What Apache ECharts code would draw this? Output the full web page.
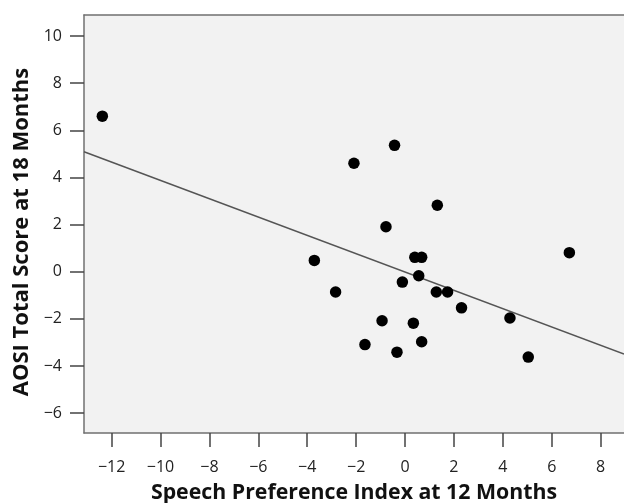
<!DOCTYPE html>
<html>
<head>
<meta charset="utf-8">
<style>
  html, body { margin: 0; padding: 0; background: #ffffff; }
  #chart { width: 624px; height: 503px; }
</style>
<script src="https://cdn.jsdelivr.net/npm/echarts@6/dist/echarts.min.js"></script>
</head>
<body>
<div id="chart"></div>
<script>
// Speech Preference Index at 12 Months (x) vs AOSI Total Score at 18 Months (y)
var speechPref = [-12.38, -0.43, -2.09, 1.32, -0.78, -3.71, 0.40, 0.68, 0.56, -0.11, -2.84, 1.28, 1.74, 2.31, -0.94, 0.34, -1.64, 0.68, -0.33, 4.29, 5.04, 6.72];
var aosiScore  = [6.60, 5.36, 4.60, 2.82, 1.91, 0.48, 0.61, 0.61, -0.17, -0.44, -0.86, -0.86, -0.86, -1.53, -2.08, -2.18, -3.09, -2.97, -3.41, -1.96, -3.62, 0.81];

// Fit line end points
var fitX = [-13.13, 8.955];
var fitY = [5.09, -3.49];

// Tick labels
var xTicks = [-12, -10, -8, -6, -4, -2, 0, 2, 4, 6, 8];
var yTicks = [-6, -4, -2, 0, 2, 4, 6, 8, 10];

var xTitle = 'Speech Preference Index at 12 Months';
var yTitle = 'AOSI Total Score at 18 Months';

var points = speechPref.map(function (x, i) { return [x, aosiScore[i]]; });
var fitLine = fitX.map(function (x, i) { return [x, fitY[i]]; });

function fmt(v) { return v < 0 ? '\u2212' + Math.abs(v) : String(v); }

var FONT = '"Open Sans", "DejaVu Sans", sans-serif';
var FRAME = '#707070';
var chart = echarts.init(document.getElementById('chart'), null, { renderer: 'canvas' });
chart.setOption({
  animation: false,
  backgroundColor: '#ffffff',
  grid: {
    left: 84, top: 15, right: 0, bottom: 70,
    containLabel: false, outerBoundsMode: 'none',
    show: true, backgroundColor: '#f2f2f2', borderWidth: 0
  },
  xAxis: [{
    type: 'value', min: -13.13, max: 8.955, position: 'bottom',
    name: xTitle, nameLocation: 'middle', nameGap: 49,
    nameTextStyle: { fontFamily: FONT, fontSize: 21.3, fontWeight: 'bold', color: '#111' },
    axisLine: { onZero: false, lineStyle: { color: FRAME, width: 1.5 } },
    axisTick: { show: true, customValues: xTicks, length: 14, lineStyle: { color: '#444', width: 1.5 } },
    axisLabel: { customValues: xTicks, formatter: fmt, margin: 26, fontFamily: FONT, fontSize: 16, color: '#222' },
    splitLine: { show: false }
  }, {
    type: 'value', min: -13.13, max: 8.955, position: 'top',
    axisLine: { show: true, onZero: false, lineStyle: { color: FRAME, width: 1.5 } },
    axisTick: { show: false }, axisLabel: { show: false }, splitLine: { show: false }
  }],
  yAxis: {
    type: 'value', min: -6.84, max: 10.89,
    name: yTitle, nameLocation: 'middle', nameGap: 51,
    nameTextStyle: { fontFamily: FONT, fontSize: 22, fontWeight: 'bold', color: '#111', padding: [0, 16, 0, 0] },
    axisLine: { onZero: false, lineStyle: { color: FRAME, width: 1.5 } },
    axisTick: { show: true, customValues: yTicks, length: 14, lineStyle: { color: '#444', width: 1.5 } },
    axisLabel: { customValues: yTicks, formatter: fmt, margin: 22, fontFamily: FONT, fontSize: 16, color: '#222' },
    splitLine: { show: false }
  },
  series: [
    {
      type: 'line', data: fitLine, symbol: 'none', silent: true,
      lineStyle: { color: '#555555', width: 1.5 }, z: 2
    },
    {
      type: 'scatter', data: points, symbol: 'circle', symbolSize: 11.5,
      itemStyle: { color: '#000000', opacity: 1 }, z: 3
    }
  ]
});
</script>
</body>
</html>
